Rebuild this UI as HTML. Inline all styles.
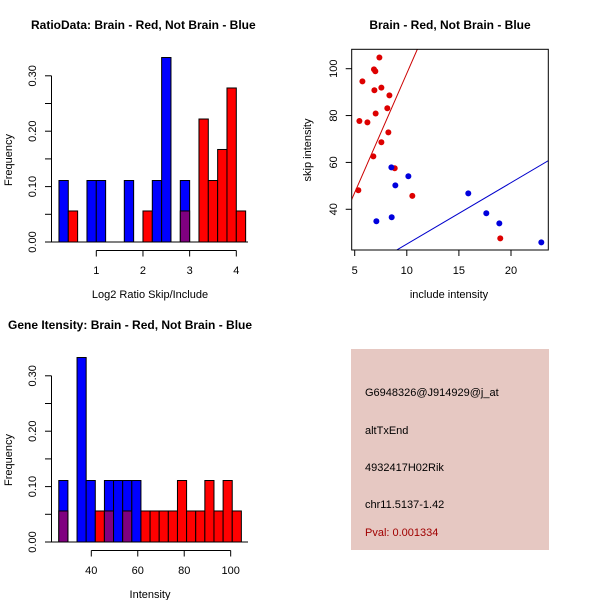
<!DOCTYPE html>
<html><head><meta charset="utf-8"><style>
body{margin:0;background:#fff}
svg{display:block;font-family:"Liberation Sans",sans-serif}
</style></head><body>
<svg id="s" width="600" height="600" xmlns="http://www.w3.org/2000/svg">
<rect width="600" height="600" fill="#fff"/>
<g id="g1"></g>
<g id="g2"></g>
<g id="g3"></g>
<g>
<rect x="351" y="349" width="198" height="201" fill="#e6c8c2"/>
<text x="365" y="396" font-size="11">G6948326@J914929@j_at</text>
<text x="365" y="434" font-size="11">altTxEnd</text>
<text x="365" y="471" font-size="11">4932417H02Rik</text>
<text x="365" y="508" font-size="11">chr11.5137-1.42</text>
<text x="365" y="536" font-size="11" fill="#a00000">Pval: 0.001334</text>
</g>
</svg>
<script>
// Ratio histogram data
const ratioStart = 0.2, ratioWidth = 0.2;
const ratioBlue = [0.111,0,0,0.111,0.111,0,0,0.111,0,0,0.111,0.333,0,0.111,0,0,0,0,0,0];
const ratioRed  = [0,0.056,0,0,0,0,0,0,0,0.056,0,0,0,0.056,0,0.222,0.111,0.167,0.278,0.056];
const ratioXTicks = [1,2,3,4];
const freqTicks = [0,0.05,0.10,0.15,0.20,0.25,0.30];
const freqLabels = ["0.00","","0.10","","0.20","","0.30"];
// Intensity histogram data
const intStart = 26, intWidth = 3.93;
const intBlue = [0.111,0,0.333,0.111,0,0.111,0.111,0.111,0.111,0,0,0,0,0,0,0,0,0,0,0];
const intRed  = [0.056,0,0,0,0.056,0.056,0,0.056,0,0.056,0.056,0.056,0.056,0.111,0.056,0.056,0.111,0.056,0.111,0.056];
const intXTicks = [40,60,80,100];
// Scatter data
const redX = [7.37,6.85,6.98,5.74,6.89,7.56,8.33,8.13,7.01,5.45,6.22,8.23,7.56,6.79,8.84,5.35,10.53,18.97];
const redY = [104.8,99.7,98.9,94.6,90.8,91.9,88.6,83.1,80.9,77.7,77.1,72.8,68.6,62.6,57.5,48.1,45.7,27.6];
const blueX = [8.52,10.15,8.90,15.90,17.63,8.55,7.08,18.88,22.91];
const blueY = [57.9,54.1,50.2,46.8,38.3,36.6,34.9,34.0,25.9];
const redLine = [10.17,-3.7];   // slope, intercept
const blueLine = [2.62,-1.05];
const scX = [5,10,15,20], scY = [40,60,80,100];

const NS="http://www.w3.org/2000/svg";
function mk(parent,tag,attrs,txt){const e=document.createElementNS(NS,tag);for(const k in attrs)e.setAttribute(k,attrs[k]);if(txt!==undefined)e.textContent=txt;parent.appendChild(e);return e;}

function hist(g,title,titleX,oy,start,w,blue,red,xticks,xlabel,xmap){
  const y0=oy+242, k=55.4/0.1;
  const fy=v=>y0-v*k;
  let t=mk(g,'text',{x:titleX,y:oy+29,'font-size':12,'font-weight':'bold'},title);
  
  for(let i=0;i<blue.length;i++){
    const x1=xmap(start+i*w), x2=xmap(start+(i+1)*w);
    const b=blue[i], r=red[i];
    if(b>0){const e=mk(g,'rect',{x:x1,y:fy(b),width:x2-x1,height:y0-fy(b),fill:'#0000ff',stroke:'#000','stroke-width':1});
      }
    if(r>0){const e=mk(g,'rect',{x:x1,y:fy(r),width:x2-x1,height:y0-fy(r),fill:b>0?'#800080':'#ff0000',stroke:'#000','stroke-width':1});
      }
  }
  mk(g,'line',{x1:51.5,x2:248,y1:y0,y2:y0,stroke:'#000'});
  const ya=mk(g,'g',{});
  mk(ya,'line',{x1:51.5,x2:51.5,y1:fy(0),y2:fy(0.30),stroke:'#000'});
  freqTicks.forEach((v,i)=>{mk(ya,'line',{x1:45,x2:51.5,y1:fy(v),y2:fy(v),stroke:'#000'});
    if(freqLabels[i])mk(ya,'text',{x:0,y:0,'font-size':11,'text-anchor':'middle',transform:`translate(36,${fy(v)}) rotate(-90)`},freqLabels[i]);});
  const yl=mk(g,'text',{'font-size':11,'text-anchor':'middle',transform:`translate(12,${oy+160}) rotate(-90)`},'Frequency');
  
  const xa=mk(g,'g',{});
  const ay=oy+250.5;
  mk(xa,'line',{x1:xmap(xticks[0]),x2:xmap(xticks[xticks.length-1]),y1:ay,y2:ay,stroke:'#000'});
  xticks.forEach(v=>{mk(xa,'line',{x1:xmap(v),x2:xmap(v),y1:ay,y2:ay+6,stroke:'#000'});
    mk(xa,'text',{x:xmap(v),y:oy+274,'font-size':11,'text-anchor':'middle'},String(v));});
  const xl=mk(g,'text',{x:150,y:oy+298,'font-size':11,'text-anchor':'middle'},xlabel);
  
}
hist(document.getElementById('g1'),'RatioData: Brain - Red, Not Brain - Blue',31,0,ratioStart,ratioWidth,ratioBlue,ratioRed,ratioXTicks,'Log2 Ratio Skip/Include',v=>96.3+(v-1)*46.67);
hist(document.getElementById('g3'),'Gene Itensity: Brain - Red, Not Brain - Blue',8,300,intStart,intWidth,intBlue,intRed,intXTicks,'Intensity',v=>91.3+(v-40)*2.323);

// scatter
const g2=document.getElementById('g2');
const sx=v=>354.7+(v-5)*10.42, sy=v=>68.7-(v-100)*2.343;
let tt=mk(g2,'text',{x:450,y:29,'font-size':12,'font-weight':'bold','text-anchor':'middle'},'Brain - Red, Not Brain - Blue');

mk(g2,'defs',{}).innerHTML='<clipPath id="pc"><rect x="351.7" y="49.3" width="196.6" height="200.7"/></clipPath>';
const lines=mk(g2,'g',{'clip-path':'url(#pc)'});
[[redLine,'#cc0000','fit-line-red'],[blueLine,'#0000cc','fit-line-blue']].forEach(([l,c,n])=>{
  const e=mk(lines,'line',{x1:sx(0),y1:sy(l[1]),x2:sx(30),y2:sy(l[0]*30+l[1]),stroke:c,'stroke-width':1});
  });
redX.forEach((x,i)=>{const e=mk(g2,'circle',{cx:sx(x),cy:sy(redY[i]),r:3,fill:'#dd0000'});
  });
blueX.forEach((x,i)=>{const e=mk(g2,'circle',{cx:sx(x),cy:sy(blueY[i]),r:3,fill:'#0000dd'});
  });
mk(g2,'rect',{x:351.7,y:49.3,width:196.6,height:200.7,fill:'none',stroke:'#000'});
scX.forEach(v=>{mk(g2,'line',{x1:sx(v),x2:sx(v),y1:250,y2:256,stroke:'#000'});
  mk(g2,'text',{x:sx(v),y:274,'font-size':11,'text-anchor':'middle'},String(v));});
scY.forEach(v=>{mk(g2,'line',{x1:345.7,x2:351.7,y1:sy(v),y2:sy(v),stroke:'#000'});
  mk(g2,'text',{'font-size':11,'text-anchor':'middle',transform:`translate(337,${sy(v)}) rotate(-90)`},String(v));});
let xt=mk(g2,'text',{x:449,y:298,'font-size':11,'text-anchor':'middle'},'include intensity');

let yt=mk(g2,'text',{'font-size':11,'text-anchor':'middle',transform:'translate(311,150) rotate(-90)'},'skip intensity');

</script>
</body></html>
